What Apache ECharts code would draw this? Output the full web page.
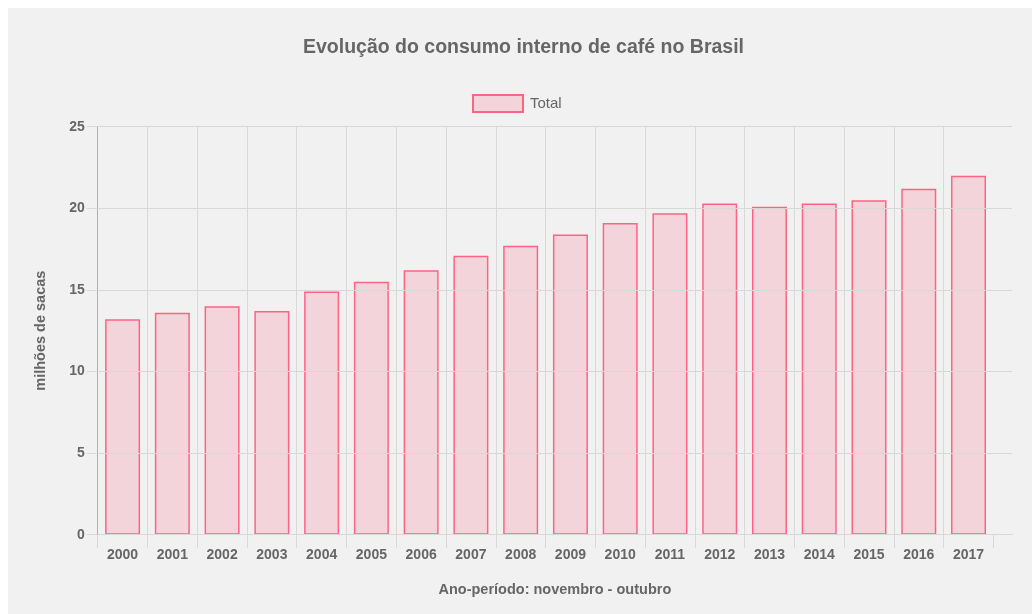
<!DOCTYPE html>
<html>
<head>
<meta charset="utf-8">
<script src="https://cdn.jsdelivr.net/npm/echarts@6/dist/echarts.min.js"></script>
<style>
  html, body { margin: 0; padding: 0; background: #ffffff; }
  #panel { position: absolute; left: 8px; top: 8px; width: 1024px; height: 606px; background: #f1f1f1; }
  #chart { position: absolute; left: 0; top: 0; width: 1032px; height: 614px; }
</style>
</head>
<body>
<div id="panel"></div>
<div id="chart"></div>
<script>
// consumo interno, milhoes de sacas (ano-periodo nov-out)
const years = ['2000', '2001', '2002', '2003', '2004', '2005', '2006', '2007', '2008',
  '2009', '2010', '2011', '2012', '2013', '2014', '2015', '2016', '2017']
const total = [13.2, 13.6, 14.0, 13.7, 14.9, 15.5, 16.2, 17.1, 17.7,
  18.4, 19.1, 19.7, 20.3, 20.1, 20.3, 20.5, 21.2, 22.0]
const yTicks = [0, 5, 10, 15, 20, 25]

const font = '"Liberation Sans", Arial, Helvetica, sans-serif'
const textGray = '#666666'
const gridGray = '#d8d8d8'
const axisGray = '#b0b0b0'

const chart = echarts.init(document.getElementById('chart'))

chart.setOption({
  backgroundColor: 'transparent',
  animation: false,
  textStyle: { fontFamily: font },
  title: {
    text: 'Evolução do consumo interno de café no Brasil',
    left: 298,
    top: 33,
    textStyle: { fontFamily: font, fontSize: 19.5, fontWeight: 'bold', color: textGray }
  },
  legend: {
    data: ['Total'],
    icon: 'rect',
    left: 467,
    top: 89,
    itemWidth: 50,
    itemHeight: 17,
    itemGap: 8,
    textStyle: { fontFamily: font, fontSize: 15, color: textGray, padding: [0, 0, 0, 2] }
  },
  grid: [
    { left: 97.7, right: 20, top: 126.7, bottom: 79.3 },
    { left: 97.7, right: 38.6, top: 126.7, bottom: 79.3 }
  ],
  xAxis: [
    {
      type: 'value',
      gridIndex: 0,
      min: 0,
      max: 1,
      name: 'Ano-período: novembro - outubro',
      nameLocation: 'middle',
      nameGap: 48,
      nameTextStyle: { fontFamily: font, fontSize: 14.5, fontWeight: 'bold', color: textGray },
      axisLine: { show: true, lineStyle: { color: axisGray, width: 1 } },
      axisTick: { show: false },
      axisLabel: { show: false },
      splitLine: { show: false }
    },
    {
      type: 'category',
      gridIndex: 1,
      data: years,
      boundaryGap: true,
      axisLine: { show: false },
      axisTick: { show: true, length: 13, lineStyle: { color: gridGray } },
      axisLabel: { margin: 13, fontFamily: font, fontSize: 14, fontWeight: 'bold', color: textGray },
      splitLine: { show: true, showMaxLine: false, lineStyle: { color: gridGray, width: 1 } }
    }
  ],
  yAxis: [
    {
      type: 'value',
      gridIndex: 0,
      min: yTicks[0],
      max: yTicks[yTicks.length - 1],
      interval: 5,
      name: 'milhões de sacas',
      nameLocation: 'middle',
      nameGap: 49,
      nameTextStyle: { fontFamily: font, fontSize: 14.5, fontWeight: 'bold', color: textGray },
      axisLine: { show: true, lineStyle: { color: axisGray, width: 1 } },
      axisTick: { show: true, length: 11, lineStyle: { color: gridGray } },
      axisLabel: { margin: 13, fontFamily: font, fontSize: 14, fontWeight: 'bold', color: textGray },
      splitLine: { show: true, lineStyle: { color: gridGray, width: 1 } },
      z: 5
    },
    {
      type: 'value',
      gridIndex: 1,
      min: yTicks[0],
      max: yTicks[yTicks.length - 1],
      show: false
    }
  ],
  series: [
    {
      name: 'Total',
      type: 'bar',
      xAxisIndex: 1,
      yAxisIndex: 1,
      data: total,
      barWidth: 35,
      itemStyle: {
        color: 'rgba(255, 99, 132, 0.2)',
        borderColor: 'rgb(255, 99, 132)',
        borderWidth: 1.5
      }
    }
  ]
})
</script>
</body>
</html>
